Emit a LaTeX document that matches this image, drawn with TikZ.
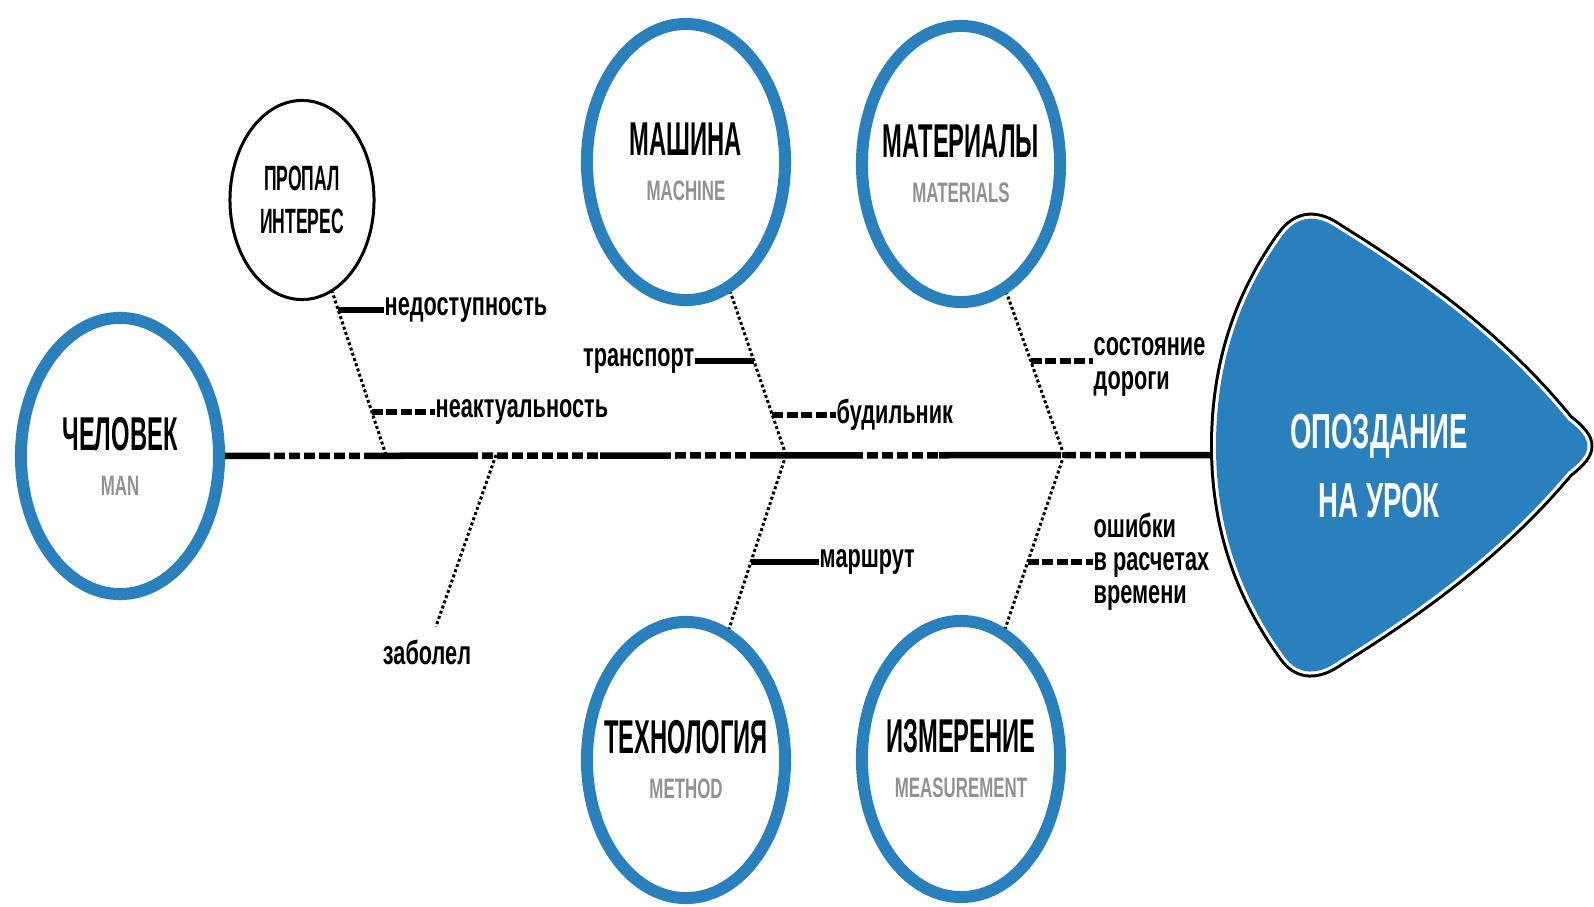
\documentclass[tikz,border=0pt]{standalone}
\usepackage{fontspec}
\usetikzlibrary{shapes.geometric,calc}
\newfontfamily\titlefont[FakeStretch=0.5]{Liberation Sans}
\newfontfamily\subfont[FakeStretch=0.6]{Liberation Sans}
\newfontfamily\labelfont[FakeStretch=0.65]{Liberation Sans}
\newfontfamily\effectfont[FakeStretch=0.56]{Liberation Sans}
\definecolor{fishblue}{RGB}{41,128,189}
\definecolor{subgray}{RGB}{145,145,145}
\newcommand\cat[2]{{\titlefont\bfseries\fontsize{13.5}{14}\selectfont#1}\\{\subfont\bfseries\color{subgray}\fontsize{8}{9}\selectfont#2}}
\begin{document}
\begin{tikzpicture}[x=0.01cm,y=-0.01cm,
    ring/.style={ellipse,draw=fishblue,line width=0.12cm,inner ysep=0pt,inner xsep=-0.35cm,minimum width=1.98cm,minimum height=2.76cm,align=center,font=\fontsize{8}{12.8}\selectfont},
    thinring/.style={ellipse,draw,line width=0.03cm,inner sep=0pt,minimum width=1.44cm,minimum height=1.99cm,align=center,font=\titlefont\bfseries\fontsize{10}{12.2}\selectfont},
    lbl/.style={font=\labelfont\bfseries\fontsize{9.5}{9.4}\selectfont,inner sep=0pt,align=left},
    spine/.style={line width=0.065cm},
    gaps/.style={white,line width=0.09cm,dash pattern=on 0.04cm off 0.11cm},
    bone/.style={line width=0.03cm,dash pattern=on 0.03cm off 0.025cm},
    tick/.style={line width=0.055cm},
    dtick/.style={tick,dash pattern=on 0.11cm off 0.035cm}]
    \useasboundingbox(0,0)rectangle(1594,906);
    \fill[fishblue,line join=round,preaction={draw=black,line width=0.12cm,line join=round},preaction={draw=white,line width=0.06cm,line join=round}]
        (1282,236)..controls(1298,214)and(1318,214)..(1340,230)
        ..controls(1445,295)and(1515,355)..(1568,420)
        ..controls(1594,440)and(1594,452)..(1568,472)
        ..controls(1515,535)and(1445,595)..(1340,660)
        ..controls(1318,676)and(1298,676)..(1284,656)
        ..controls(1236,590)and(1216,520)..(1216,446)
        ..controls(1216,370)and(1236,300)..(1282,236)--cycle;
    \node[font=\effectfont\bfseries\fontsize{14}{19.8}\selectfont,text=white,align=center](7)at(1379,466){ОПОЗДАНИЕ\\НА УРОК};
    \node[ring](1)at(120,456){\cat{ЧЕЛОВЕК}{MAN}};
    \node[ring](2)at(686,162){\cat{МАШИНА}{MACHINE}};
    \node[ring](3)at(961,164){\cat{МАТЕРИАЛЫ}{MATERIALS}};
    \node[ring](4)at(686,760){\cat{ТЕХНОЛОГИЯ}{METHOD}};
    \node[ring](5)at(961,759){\cat{ИЗМЕРЕНИЕ}{MEASUREMENT}};
    \node[thinring](6)at(302,200){ПРОПАЛ\\ИНТЕРЕС};
    \coordinate(a)at(386,455);
    \coordinate(b)at(496,455);
    \coordinate(c)at(786,455);
    \coordinate(d)at(1064,455);
    \coordinate(e)at(1212,455);
    \draw[spine](1)--(e);
    \foreach\u/\v in{270/375,478/600,671/755,863/939,1061/1150}
        \draw[gaps](\u,455)--(\v,455);
    \node[lbl,outer sep=0.13cm](8)at(427,652){заболел};
    \draw[bone](a)--(6);
    \draw[bone](b)--(8);
    \draw[bone](c)--(2);
    \draw[bone](c)--(4);
    \draw[bone](d)--(3);
    \draw[bone](d)--(5);
    \coordinate(t1)at($(a)!0.569!(6)$);
    \coordinate(t2)at($(a)!0.169!(6)$);
    \coordinate(t3)at($(c)!0.321!(2)$);
    \coordinate(t4)at($(c)!0.137!(2)$);
    \coordinate(t5)at($(c)!0.351!(4)$);
    \coordinate(t6)at($(d)!0.323!(3)$);
    \coordinate(t7)at($(d)!0.352!(5)$);
    \node[lbl,anchor=west](9)at(384,310){недоступность};
    \node[lbl,anchor=west](10)at(435,412){неактуальность};
    \node[lbl,anchor=east](11)at(695,361){транспорт};
    \node[lbl,anchor=west](12)at(836,415){будильник};
    \node[lbl,anchor=west](13)at(819,562){маршрут};
    \node[lbl,anchor=west](14)at(1093,367){состояние\\дороги};
    \node[lbl,anchor=west](15)at(1093,562){ошибки\\в расчетах\\времени};
    \draw[tick](t1)--(t1-|9.west);
    \draw[dtick](t2)--(t2-|10.west);
    \draw[tick](t3)--(t3-|11.east);
    \draw[dtick](t4)--(t4-|12.west);
    \draw[tick](t5)--(t5-|13.west);
    \draw[dtick](t6)--(t6-|14.west);
    \draw[dtick](t7)--(t7-|15.west);
\end{tikzpicture}
\end{document}
